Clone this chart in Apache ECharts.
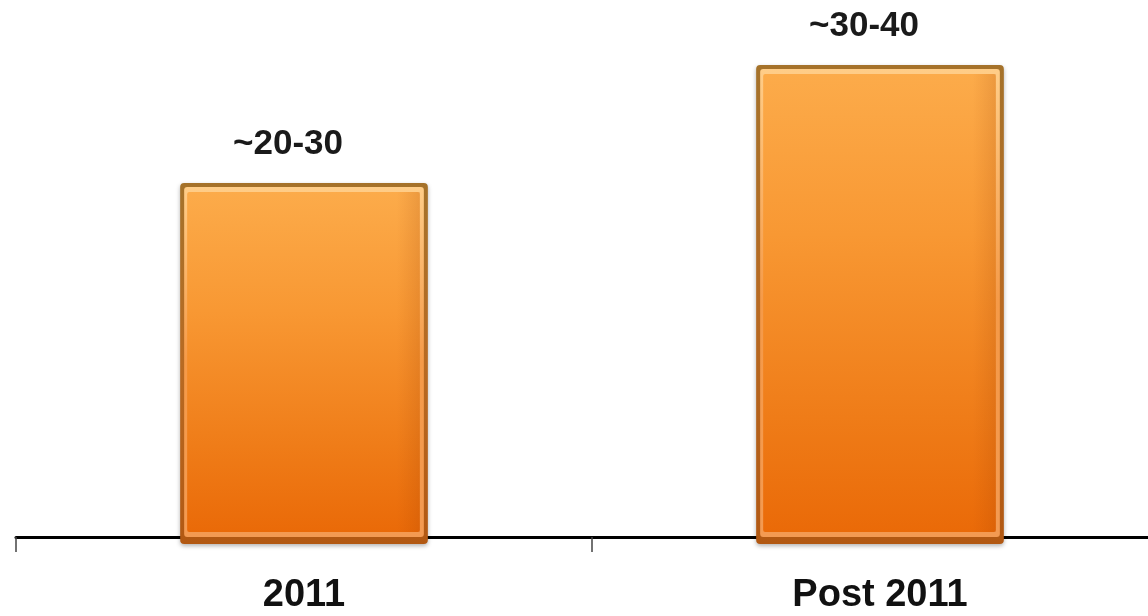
<!DOCTYPE html>
<html>
<head>
<meta charset="utf-8">
<title>Bar chart</title>
<script src="https://cdn.jsdelivr.net/npm/echarts@6/dist/echarts.min.js"></script>
<style>
  html, body { margin: 0; padding: 0; background: #ffffff; overflow: hidden; width: 1148px; height: 616px; }
  /* the plot runs past the right edge of the page, so the axis line is cut off there */
  #chart { width: 1168px; height: 616px; }
</style>
</head>
<body>
<div id="chart"></div>
<script>
// Categories, bar heights and the range labels shown above each bar
const categories = ['2011', 'Post 2011'];
const barValues = [30, 40];
const valueLabels = ['~20-30', '~30-40'];

const FONT = '"Liberation Sans", Arial, Helvetica, sans-serif';

const chart = echarts.init(document.getElementById('chart'), null, { renderer: 'canvas' });

function lin(x1, y1, x2, y2, stops) {
  return new echarts.graphic.LinearGradient(x1, y1, x2, y2,
    stops.map(s => ({ offset: s[0], color: s[1] })));
}

// Bevelled orange bar drawn from the category / value scales
function renderBar(params, api) {
  const idx = api.value(0);
  const val = api.value(1);
  const top = api.coord([idx, val]);
  const base = api.coord([idx, 0]);
  const w = api.size([1, 0])[0] * 0.43;
  const x = top[0] - w / 2;
  const y = top[1];
  const h = base[1] - top[1] + 7;

  return {
    type: 'group',
    children: [
      // outer frame with soft drop shadow
      {
        type: 'rect',
        shape: { x: x, y: y, width: w, height: h, r: 4 },
        style: {
          fill: lin(0, 0, 0, 1, [[0, '#a5722a'], [0.5, '#b86a22'], [1, '#b25812']]),
          shadowBlur: 4, shadowOffsetY: 2, shadowColor: 'rgba(0,0,0,0.3)'
        }
      },
      // light inner rim
      {
        type: 'rect',
        shape: { x: x + 4, y: y + 4, width: w - 8, height: h - 11, r: 3 },
        style: { fill: lin(0, 0, 0, 1, [[0, '#ffcd88'], [0.5, '#f59a48'], [1, '#f39a52']]) }
      },
      // main face
      {
        type: 'rect',
        shape: { x: x + 7, y: y + 9, width: w - 15, height: h - 21, r: 2 },
        style: { fill: lin(0, 0, 0, 1, [[0, '#fcab4a'], [0.35, '#f89833'], [0.75, '#ef7c18'], [1, '#ea6a08']]) }
      },
      // slight darkening near the right edge
      {
        type: 'rect',
        shape: { x: x + 7, y: y + 9, width: w - 15, height: h - 21 },
        style: { fill: lin(0, 0, 1, 0, [[0, 'rgba(255,255,255,0)'], [0.9, 'rgba(160,60,0,0)'], [1, 'rgba(140,50,0,0.15)']]) }
      },
      // value range label
      {
        type: 'text',
        x: top[0] - 16,
        y: y - 39,
        style: {
          text: valueLabels[params.dataIndex],
          fontFamily: FONT,
          fontSize: 35,
          fontWeight: 'bold',
          fill: '#1a1a1a',
          align: 'center',
          verticalAlign: 'middle'
        }
      }
    ]
  };
}

const option = {
  backgroundColor: '#ffffff',
  animation: false,
  grid: { left: 16, right: 0, top: 6, bottom: 79 },
  xAxis: {
    type: 'category',
    data: categories,
    boundaryGap: true,
    axisLine: { show: true, lineStyle: { color: '#000000', width: 3 } },
    axisTick: { show: true, length: 15, lineStyle: { color: '#444444', width: 1.5 } },
    axisLabel: {
      margin: 40,
      fontFamily: FONT,
      fontSize: 38,
      fontWeight: 'bold',
      color: '#111111'
    },
    splitLine: { show: false }
  },
  yAxis: {
    type: 'value',
    min: 0,
    max: 45,
    show: false
  },
  series: [{
    type: 'custom',
    renderItem: renderBar,
    encode: { x: 0, y: 1 },
    data: barValues.map((v, i) => [i, v]),
    z: 3
  }]
};

chart.setOption(option);
</script>
</body>
</html>
